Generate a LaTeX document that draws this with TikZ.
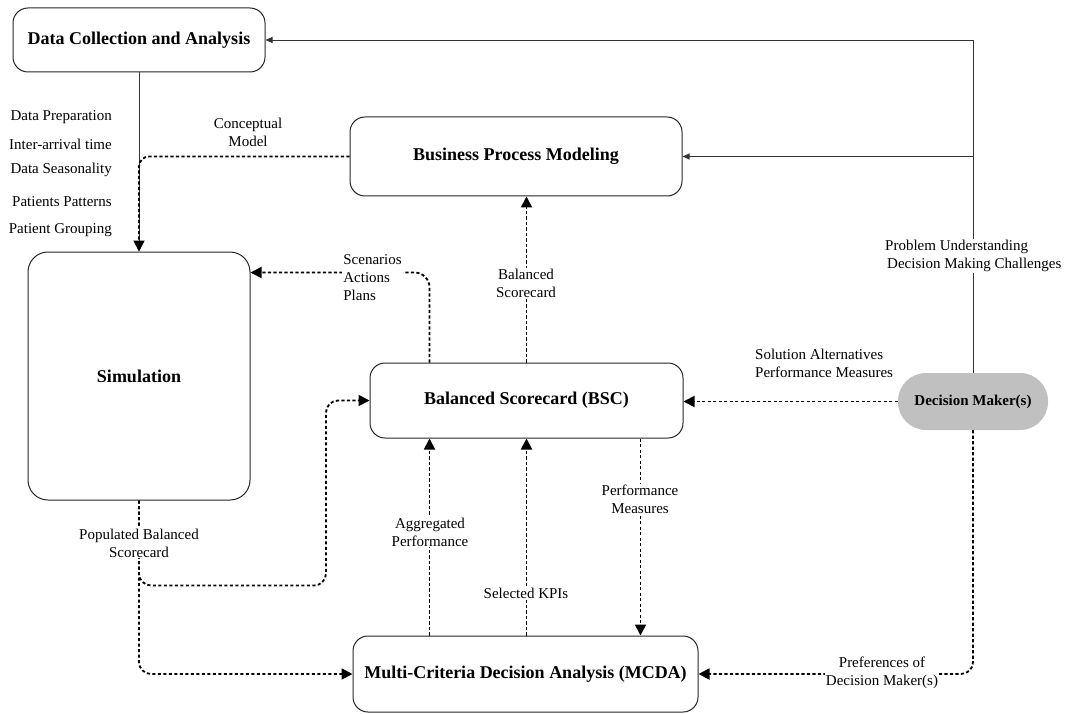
\documentclass[tikz,border=0pt]{standalone}
\usepackage{fontspec}
\setmainfont{Liberation Serif}
\usetikzlibrary{arrows.meta,calc}
\definecolor{dmgray}{RGB}{192,192,192}
\begin{document}
\begin{tikzpicture}[x=1pt,y=-1pt,
  box/.style={draw=black!85, line width=1pt, rounded corners=15pt, font=\fontsize{18}{21}\selectfont\bfseries, align=center, inner sep=0pt},
  lbl/.style={font=\fontsize{15}{18}\selectfont, inner sep=1pt},
  wlbl/.style={lbl, fill=white},
  dotarrow/.style={line width=1.8pt, dash pattern=on 3.2pt off 2.3pt, -{Triangle[length=11pt,width=11pt]}},
  solidarrow/.style={line width=0.9pt, draw=black!80, -{Triangle[length=7pt,width=6pt]}},
]
\useasboundingbox (0,0) rectangle (1065,714);

% main boxes
\node[box, minimum width=252pt, minimum height=64pt] (dca) at (139,40) {Data Collection and Analysis};
\node[box, minimum width=332pt, minimum height=79pt] (bpm) at (516,156.5) {Business Process Modeling};
\node[box, rounded corners=20pt, minimum width=222pt, minimum height=248pt] (sim) at (139,376) {Simulation};
\node[box, minimum width=313pt, minimum height=75pt] (bsc) at (526.5,400.5) {Balanced Scorecard (BSC)};
\node[box, minimum width=345pt, minimum height=76pt] (mcda) at (525.5,674) {Multi-Criteria Decision Analysis (MCDA)};
\node[fill=dmgray, rounded corners=28pt, minimum width=150pt, minimum height=57pt, font=\fontsize{15}{18}\selectfont\bfseries, inner sep=0pt] (dm) at (973,401.5) {Decision Maker(s)};

% helper coordinates
\coordinate (sc) at ($(bsc.north west)+(60,0)$);
\coordinate (scend) at ($(sim.north east)+(0,21)$);
\coordinate (ag) at ($(bsc.south west)+(60,0)$);
\coordinate (pm) at ($(bsc.south east)+(-43,0)$);
\coordinate (c1) at ($(sim.south)+(187,85)$);
\coordinate (j1) at (dm.north |- bpm.east);

% connectors
\draw[solidarrow] (dm.north) |- (dca.east);
\draw[solidarrow] (j1) -- (bpm.east);
\draw[solidarrow] (dca.south) -- (sim.north);
\draw[dotarrow, rounded corners=10pt] (bpm.west) -| (sim.north);
\draw[dotarrow] (bsc.north) -- (bsc.north |- bpm.south);
\draw[dotarrow, rounded corners=15pt] (sc) |- (scend);
\draw[dotarrow] (dm.west) -- (dm.west -| bsc.east);
\draw[dotarrow, rounded corners=12pt] (sim.south) |- (c1) |- (bsc.west);
\draw[dotarrow, rounded corners=12pt] (sim.south) |- (mcda.west);
\draw[dotarrow] (ag |- mcda.north) -- (ag);
\draw[dotarrow] (bsc.south |- mcda.north) -- (bsc.south);
\draw[dotarrow] (pm) -- (pm |- mcda.north);
\draw[dotarrow, rounded corners=12pt] (dm.south) |- (mcda.east);

% labels
\node[lbl, anchor=east] (l1) at (113,117) {Data Preparation};
\node[lbl, anchor=east] (l2) at (113,144) {Inter-arrival time};
\node[lbl, anchor=east] (l3) at (113,170) {Data Seasonality};
\node[lbl, anchor=east] (l4) at (113,202) {Patients Patterns};
\node[lbl, anchor=east] (l5) at (113,230) {Patient Grouping};
\node[lbl, align=center] (cm) at (248,132) {Conceptual\\Model};
\node[wlbl, align=center] (bsl) at (526,283.5) {Balanced\\Scorecard};
\node[wlbl, align=left] (scl) at (372.5,278) {Scenarios\\Actions\\Plans};
\node[lbl, align=left, anchor=west] (sal) at (754,363) {Solution Alternatives\\Performance Measures};
\node[wlbl, align=left, anchor=west] (pul) at (884,256) {Problem Understanding\\\hspace*{2pt}Decision Making Challenges};
\node[wlbl, align=center] (pbs) at (139,543) {Populated Balanced\\Scorecard};
\node[wlbl, align=center] (agl) at (430,532) {Aggregated\\Performance};
\node[wlbl] (kpi) at (526,593.5) {Selected KPIs};
\node[wlbl, align=center] (pml) at (640,499) {Performance\\Measures};
\node[wlbl, align=center] (prf) at (882,672.5) {Preferences of\\Decision Maker(s)};
\end{tikzpicture}
\end{document}
